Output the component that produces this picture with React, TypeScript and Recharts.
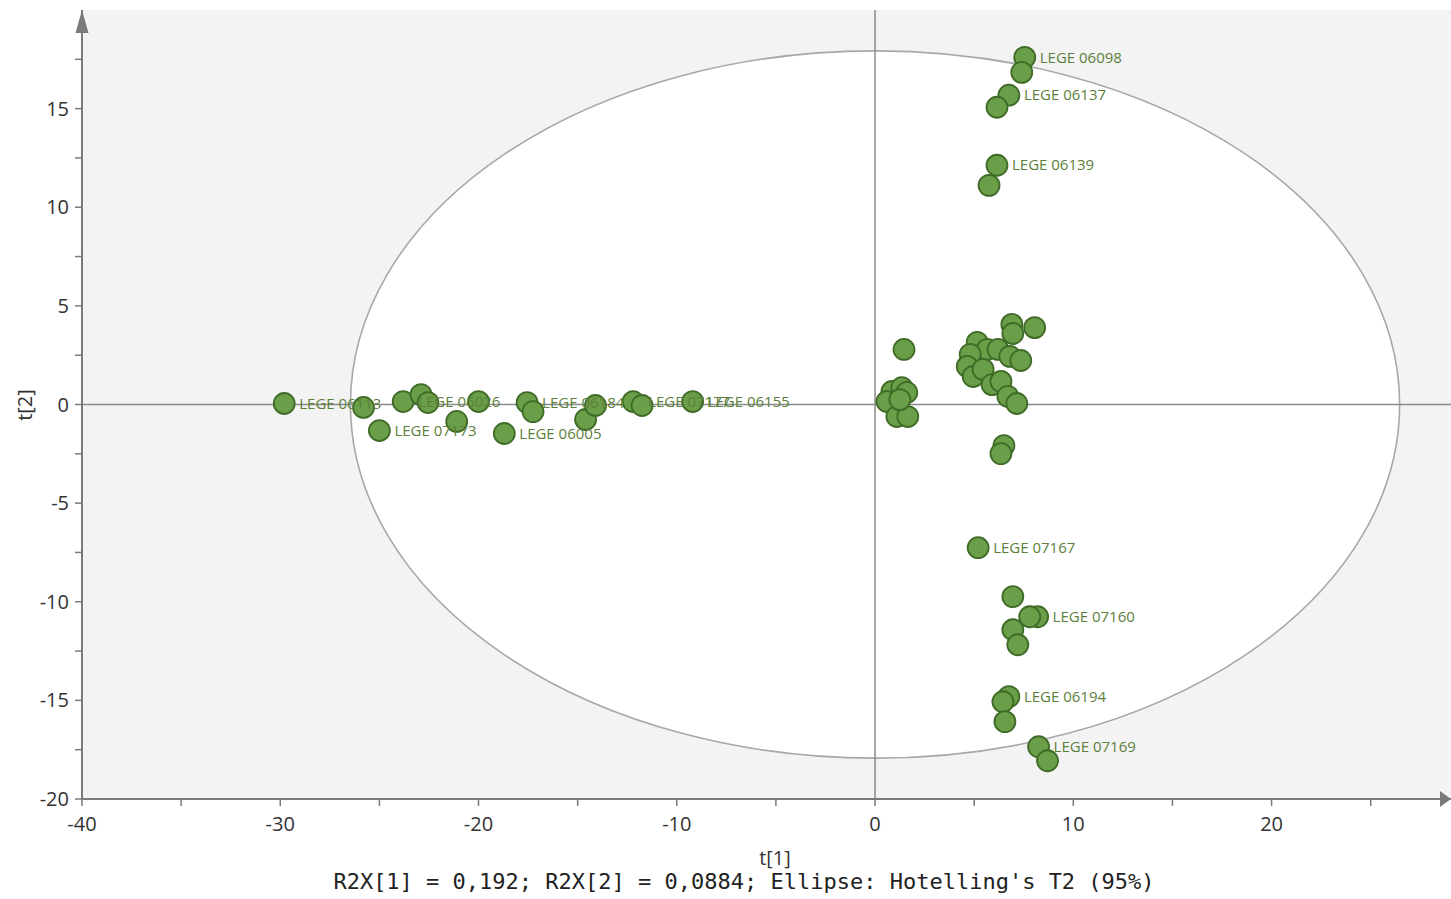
import React from "react";
import {
  ScatterChart,
  Scatter,
  XAxis,
  YAxis,
  CartesianGrid,
  ReferenceArea,
  ReferenceLine,
  ReferenceDot,
} from "recharts";

// Score values t[1] and t[2]
const t1Values = [
  -29.8, -25.8, -25.0, -23.8, -22.9, -22.55, -21.1, -20.0, -18.7, -17.55, -17.25, -14.6, -14.1, -12.2, -11.75, -9.2,
  0.85, 1.35, 1.6, 0.6, 1.1, 1.65, 1.25, 1.46,
  6.9, 8.05, 6.95, 5.15, 5.65, 6.2, 6.8, 7.35, 4.8, 4.65, 4.95, 5.45, 5.9, 6.35, 6.7, 7.15, 6.5, 6.35,
  7.55, 7.4, 6.75, 6.15, 6.15, 5.75,
  5.2, 6.95, 8.2, 7.8, 6.95, 7.2, 6.75, 6.45, 6.55, 8.25, 8.7,
];
const t2Values = [
  0.05, -0.15, -1.32, 0.15, 0.5, 0.1, -0.86, 0.15, -1.47, 0.1, -0.36, -0.76, -0.05, 0.15, -0.05, 0.15,
  0.66, 0.86, 0.61, 0.15, -0.61, -0.61, 0.25, 2.79,
  4.06, 3.9, 3.6, 3.15, 2.79, 2.79, 2.44, 2.23, 2.54, 1.93, 1.42, 1.78, 1.01, 1.17, 0.41, 0.05, -2.08, -2.49,
  17.6, 16.84, 15.68, 15.07, 12.13, 11.11,
  -7.26, -9.74, -10.76, -10.76, -11.42, -12.18, -14.81, -15.07, -16.08, -17.35, -18.06,
];
const pointNames = [
  "LEGE 06113", "", "LEGE 07173", "LEGE 06026", "", "", "", "", "LEGE 06005", "LEGE 06184", "", "", "", "LEGE 07177", "", "LEGE 06155",
  "", "", "", "", "", "", "", "",
  "", "", "", "", "", "", "", "", "", "", "", "", "", "", "", "", "", "",
  "LEGE 06098", "", "LEGE 06137", "", "LEGE 06139", "",
  "LEGE 07167", "", "LEGE 07160", "", "", "", "LEGE 06194", "", "", "LEGE 07169", "",
];

const xTicks = [-40, -35, -30, -25, -20, -15, -10, -5, 0, 5, 10, 15, 20, 25];
const yTicks = [-20, -17.5, -15, -12.5, -10, -7.5, -5, -2.5, 0, 2.5, 5, 7.5, 10, 12.5, 15, 17.5];

// Hotelling's T2 ellipse semi-axes
const ellipseT1 = 26.46;
const ellipseT2 = 17.93;

const xDomain: [number, number] = [-40, 29.05];
const yDomain: [number, number] = [-20, 20];

const data = t1Values.map((x, i) => ({ x, y: t2Values[i], name: pointNames[i] }));

const FONT = "'Open Sans', 'Noto Sans', sans-serif";
const AXIS = "#7a7a7a";

const PointShape = (props: any) => {
  const { cx, cy } = props;
  if (cx == null || cy == null) return null;
  return <circle cx={cx} cy={cy} r={10.5} fill="#6b9e48" stroke="#3f6b27" strokeWidth={1.8} />;
};

const LabelShape = (props: any) => {
  const { cx, cy, payload } = props;
  if (cx == null || cy == null || !payload || !payload.name) return <g />;
  return (
    <text x={cx + 15} y={cy} dy="0.35em" fill="#5b803b" fontSize={15} fontFamily={FONT}>
      {payload.name}
    </text>
  );
};

const EllipseShape = (props: any) => {
  const { x, y, width, height } = props;
  return (
    <ellipse
      cx={x + width / 2}
      cy={y + height / 2}
      rx={width / 2}
      ry={height / 2}
      fill="#ffffff"
      stroke="#a8a8a8"
      strokeWidth={1.6}
    />
  );
};

const UpArrow = (props: any) => {
  const { cx, cy } = props;
  return <polygon points={`${cx},${cy} ${cx - 6.5},${cy + 23} ${cx + 6.5},${cy + 23}`} fill="#7a7a7a" />;
};

const RightArrow = (props: any) => {
  const { cx, cy } = props;
  return <polygon points={`${cx},${cy} ${cx - 11},${cy - 8} ${cx - 11},${cy + 8}`} fill="#7a7a7a" />;
};

export default function App() {
  return (
    <div style={{ position: "absolute", left: 0, top: 0, width: 1451, height: 899, background: "#fff" }}>
      <ScatterChart width={1451} height={899} margin={{ top: 10, right: 0, bottom: 0, left: 0 }}>
        <CartesianGrid fill="#f3f3f3" horizontal={false} vertical={false} stroke="none" />
        <ReferenceArea
          x1={-ellipseT1}
          x2={ellipseT1}
          y1={-ellipseT2}
          y2={ellipseT2}
          shape={EllipseShape}
          ifOverflow="visible"
        />
        <ReferenceLine x={0} stroke="#8a8a8a" strokeWidth={1.5} />
        <ReferenceLine y={0} stroke="#8a8a8a" strokeWidth={1.5} />
        <XAxis
          type="number"
          dataKey="x"
          domain={xDomain}
          ticks={xTicks}
          interval={0}
          allowDataOverflow
          height={100}
          tickFormatter={(v: number) => (v % 10 === 0 ? String(v) : "")}
          tick={{ fontSize: 20, fill: "#333", fontFamily: FONT }}
          tickSize={7}
          tickMargin={11}
          axisLine={{ stroke: AXIS, strokeWidth: 2 }}
          tickLine={{ stroke: AXIS, strokeWidth: 1.5 }}
        />
        <YAxis
          type="number"
          dataKey="y"
          domain={yDomain}
          ticks={yTicks}
          interval={0}
          allowDataOverflow
          width={82}
          tickFormatter={(v: number) => (v % 5 === 0 ? String(v) : "")}
          tick={{ fontSize: 20, fill: "#333", fontFamily: FONT }}
          tickSize={7}
          tickMargin={6}
          axisLine={{ stroke: AXIS, strokeWidth: 2 }}
          tickLine={{ stroke: AXIS, strokeWidth: 1.5 }}
        />
        <Scatter data={data} shape={PointShape} isAnimationActive={false} />
        <Scatter data={data} shape={LabelShape} isAnimationActive={false} />
        <ReferenceDot x={-40} y={20} shape={UpArrow} ifOverflow="visible" />
        <ReferenceDot x={29.05} y={-20} shape={RightArrow} ifOverflow="visible" />
      </ScatterChart>
      <div
        style={{
          position: "absolute",
          left: 675,
          width: 200,
          top: 845,
          textAlign: "center",
          fontFamily: FONT,
          fontSize: 20,
          color: "#333",
          lineHeight: "26px",
          marginLeft: 0,
        }}
      >
        t[1]
      </div>
      <div
        style={{
          position: "absolute",
          left: 244,
          width: 1000,
          top: 868,
          textAlign: "center",
          fontFamily: "'DejaVu Sans Mono', monospace",
          fontSize: 22,
          color: "#222",
          lineHeight: "28px",
          whiteSpace: "pre",
        }}
      >
        R2X[1] = 0,192; R2X[2] = 0,0884; Ellipse: Hotelling's T2 (95%)
      </div>
      <div
        style={{
          position: "absolute",
          left: 25,
          top: 405,
          transform: "translate(-50%, -50%) rotate(-90deg)",
          fontFamily: FONT,
          fontSize: 20,
          color: "#333",
          lineHeight: "26px",
          whiteSpace: "nowrap",
        }}
      >
        t[2]
      </div>
    </div>
  );
}
